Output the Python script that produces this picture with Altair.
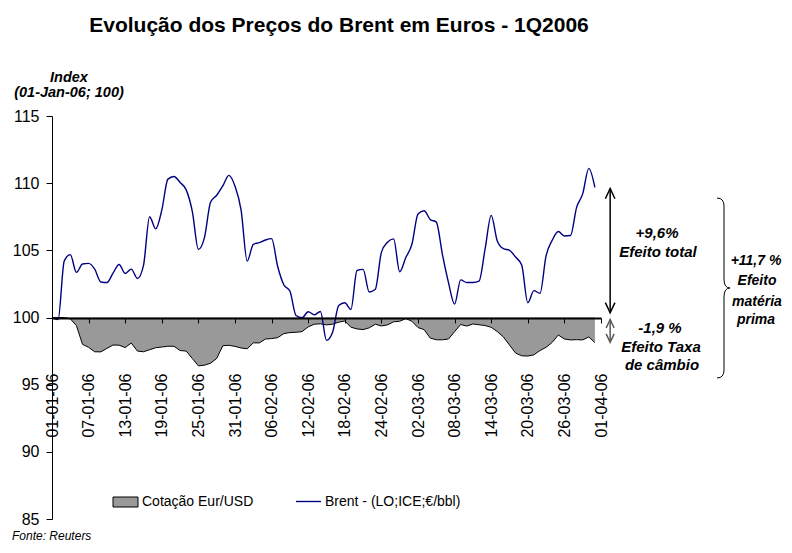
import altair as alt
import pandas as pd

FONT = "Liberation Sans"

# ---------------- data ----------------
tick_labels = ["01-01-06", "07-01-06", "13-01-06", "19-01-06", "25-01-06", "31-01-06",
               "06-02-06", "12-02-06", "18-02-06", "24-02-06", "02-03-06", "08-03-06",
               "14-03-06", "20-03-06", "26-03-06", "01-04-06"]
tick_days = list(range(0, 91, 6))
y_ticks = [85, 90, 95, 100, 105, 110, 115]

brent = [
    100.0, 99.85, 104.2, 104.68, 103.36, 103.98, 104.03, 103.6, 102.64, 102.6,
    103.3, 103.95, 103.28, 103.6, 102.9, 103.88, 107.5, 106.6, 107.99, 110.3,
    110.5, 110.05, 109.5, 107.9, 105.07, 105.96, 108.6, 109.1, 109.8, 110.58,
    109.77, 108.0, 104.2, 105.45, 105.57, 105.77, 105.87, 103.8, 102.44, 101.97,
    100.15, 99.98, 100.43, 100.2, 100.45, 98.3, 98.9, 100.9, 101.1, 100.6,
    103.5, 103.58, 101.9, 102.1, 104.85, 105.6, 105.85, 103.4, 104.46, 105.45,
    107.7, 107.95, 107.3, 107.1, 104.7, 102.6, 101.0, 102.8, 102.6, 102.6,
    102.7, 105.1, 107.6, 105.7, 105.12, 105.0, 104.5, 103.9, 101.1, 102.0,
    101.8, 104.6, 105.75, 106.4, 106.07, 106.1, 108.2, 109.2, 111.1, 109.68,
]

eurusd = [
    100.0, 100.0, 100.0, 99.9, 99.4, 98.0, 97.78, 97.45, 97.44, 97.7,
    97.95, 97.94, 97.76, 98.1, 97.5, 97.45, 97.6, 97.75, 97.8, 97.86,
    97.86, 97.54, 97.5, 96.95, 96.4, 96.45, 96.6, 96.95, 97.9, 97.93,
    97.85, 97.73, 97.67, 98.11, 98.11, 98.4, 98.43, 98.5, 98.8, 98.88,
    98.9, 98.95, 99.3, 99.5, 99.53, 99.45, 99.5, 99.65, 99.74, 99.28,
    99.15, 99.1, 99.23, 99.5, 99.37, 99.45, 99.68, 99.72, 99.92, 99.72,
    99.25, 99.1, 98.47, 98.34, 98.34, 98.4, 98.95, 99.48, 99.36, 99.52,
    99.46, 99.4, 99.27, 98.95, 98.55, 97.95, 97.35, 97.15, 97.13, 97.22,
    97.54, 97.78, 98.15, 98.7, 98.4, 98.33, 98.35, 98.33, 98.55, 98.13,
]

days = list(range(len(brent)))

# annotation values (index points)
arrow_day = [91.5]
total_top = [109.6]
total_bottom = [100.35]
fx_top = [99.85]
fx_bottom = [98.15]

df = pd.DataFrame({"day": days, "brent": brent, "eurusd": eurusd})
df["base"] = 100.0
one = pd.DataFrame({"k": [0]})

label_expr = "[" + ",".join("'%s'" % t for t in tick_labels) + "][round(datum.value / 6)]"

xscale = alt.Scale(domain=[0, 90], nice=False, zero=False)
yscale = alt.Scale(domain=[85, 115], nice=False, zero=False)

x_axis = alt.Axis(values=tick_days, labelExpr=label_expr, labelAngle=-90,
                  labelFontSize=16, labelFont=FONT, labelColor="black",
                  labelPadding=50, labelOverlap=False, labelFlush=False,
                  tickSize=5, tickColor="black", tickWidth=1,
                  domainColor="black", domainWidth=2, offset=-201,
                  grid=False, title=None, zindex=1)
y_axis = alt.Axis(values=y_ticks, labelFontSize=16, labelFont=FONT, labelColor="black",
                  labelPadding=7, tickSize=6, tickColor="black", domainColor="black",
                  domainWidth=1, grid=False, title=None)


def X(field):
    return alt.X(field, scale=xscale, axis=x_axis)


def Y(field):
    return alt.Y(field, scale=yscale, axis=y_axis)


base = alt.Chart(df)
area = base.mark_area(color="#999999", opacity=1).encode(
    x=X("day:Q"), y=Y("eurusd:Q"), y2="base:Q",
)
area_edge = base.mark_line(color="black", strokeWidth=1).encode(
    x=X("day:Q"), y=Y("eurusd:Q"),
)
brent_line = base.mark_line(color="#000080", strokeWidth=1.4, interpolate="monotone").encode(
    x=X("day:Q"), y=Y("brent:Q"),
)


def arrow(day, top, bottom, color, width, size):
    d = pd.DataFrame({"day": day, "top": top, "bottom": bottom})
    c = alt.Chart(d)
    shaft = c.mark_rule(color=color, strokeWidth=width).encode(
        x=X("day:Q"), y=Y("top:Q"), y2="bottom:Q",
    )
    head_up = c.mark_point(shape="M-1.6,3.4L0,0L1.6,3.4", size=size, filled=False,
                           color=color, strokeWidth=width, opacity=1).encode(
        x=X("day:Q"), y=Y("top:Q"),
    )
    head_down = c.mark_point(shape="M-1.6,-3.4L0,0L1.6,-3.4", size=size, filled=False,
                             color=color, strokeWidth=width, opacity=1).encode(
        x=X("day:Q"), y=Y("bottom:Q"),
    )
    return [shaft, head_up, head_down]


def txt(s, x, y, size=15, weight="bold", style="italic", align="center", color="black"):
    return alt.Chart(one).mark_text(text=s, fontSize=size, fontWeight=weight, fontStyle=style,
                                    align=align, baseline="alphabetic", font=FONT,
                                    color=color).encode(x=alt.value(x), y=alt.value(y))


brace = alt.Chart(one).mark_point(
    shape="M-7,-90Q0,-90 0,-82L0,-9Q0,0 6,0Q0,0 0,9L0,82Q0,90 -7,90",
    size=4, filled=False, color="black", strokeWidth=1, opacity=1,
).encode(x=alt.value(672), y=alt.value(172))

legend_box = alt.Chart(one).mark_rect(color="#999999", stroke="black", strokeWidth=1).encode(
    x=alt.value(61), x2=alt.value(86), y=alt.value(381), y2=alt.value(391))
legend_line = alt.Chart(one).mark_rule(color="#000080", strokeWidth=1.4).encode(
    x=alt.value(244), x2=alt.value(269), y=alt.value(385.5))

layers = [area, area_edge, brent_line]
layers += arrow(arrow_day, total_top, total_bottom, "black", 1.5, 36)
layers += arrow(arrow_day, fx_top, fx_bottom, "#595959", 1.5, 25)
layers += [
    brace,
    txt("Evolução dos Preços do Brent em Euros - 1Q2006", 287, -84, size=21, style="normal"),
    txt("Index", 17, -34, size=14.5),
    txt("(01-Jan-06; 100)", 17, -19, size=14.5),
    txt("+9,6%", 605, 122),
    txt("Efeito total", 606, 141),
    txt("-1,9 %", 608, 217),
    txt("Efeito Taxa", 609, 236),
    txt("de câmbio", 610, 254),
    txt("+11,7 %", 704, 149, size=14),
    txt("Efeito", 705, 169, size=14),
    txt("matéria", 705, 190, size=14),
    txt("prima", 704, 208, size=14),
    legend_box,
    txt("Cotação Eur/USD", 90, 390, size=14, weight="normal", style="normal", align="left"),
    legend_line,
    txt("Brent - (LO;ICE;€/bbl)", 273, 390, size=14, weight="normal", style="normal", align="left"),
    txt("Fonte: Reuters", -40, 424, size=12, weight="normal", style="italic", align="left"),
]

chart = alt.layer(*layers).properties(
    width=549, height=403,
    padding={"left": 44, "top": 108, "right": 183, "bottom": 26},
    autosize=alt.AutoSizeParams(type="none"),
).configure(font=FONT).configure_view(strokeWidth=0)

chart.save("out.html", embed_options={"renderer": "svg", "actions": False})
